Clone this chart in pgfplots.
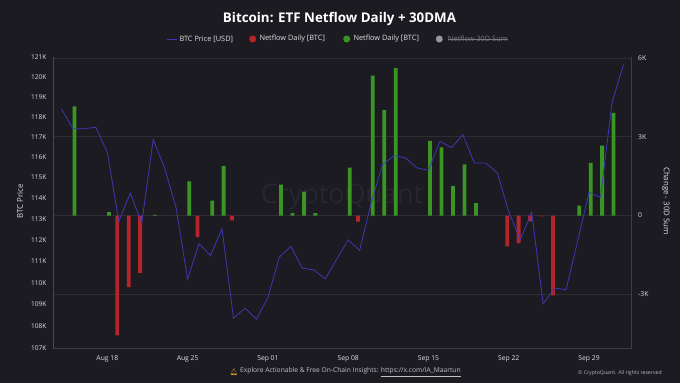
\documentclass[border=0pt]{standalone}
\usepackage{pgfplots}
\pgfplotsset{compat=1.18}
\usepackage{fontspec}
\setmainfont{Open Sans}
\newfontfamily\emojifont{Noto Emoji}
\definecolor{bgcol}{RGB}{28,27,33}
\definecolor{gridcol}{RGB}{46,45,52}
\definecolor{linecol}{RGB}{62,61,68}
\definecolor{txtcol}{RGB}{222,222,226}
\definecolor{pricecol}{RGB}{62,56,178}
\definecolor{greencol}{RGB}{58,150,36}
\definecolor{redcol}{RGB}{180,36,42}
\definecolor{graycol}{RGB}{150,150,156}
\definecolor{wmcol}{RGB}{39,38,44}
\definecolor{bellcol}{RGB}{240,190,40}
\begin{document}
\begin{tikzpicture}[x=1bp,y=1bp]
\fill[bgcol] (0,0) rectangle (680,383);
\node[text=wmcol, font=\fontsize{27}{27}\selectfont] at (342,186) {CryptoQuant};
% bars axis (right)
\begin{axis}[at={(53.3bp,35bp)}, anchor=south west, scale only axis,
  width=578.4bp, height=290.5bp,
  xmin=-4.71, xmax=45.72, ymin=-5040, ymax=6010,
  axis y line*=right, axis x line*=bottom,
  axis line style={draw=linecol, line width=0.6bp, -},
  xtick={0,7,14,21,28,35,42},
  xticklabels={Aug 18,Aug 25,Sep 01,Sep 08,Sep 15,Sep 22,Sep 29},
  ytick={-3000,0,3000,6000}, yticklabels={-3K,0,3K,6K},
  major tick length=0pt,
  ymajorgrids, grid style={draw=gridcol, line width=0.5bp},
  tick label style={text=txtcol, font=\fontsize{6.8}{7}\selectfont},
  yticklabel style={anchor=west, inner sep=0pt, xshift=6.3bp},
  xticklabel style={anchor=north, inner sep=0pt, yshift=-7bp},
  /pgf/number format/assume math mode=true,
]
\addplot[ybar, bar width=3.8bp, bar shift=1.6bp, fill=greencol, draw=none] coordinates {
(-3,4150) (0,130) (4,20) (7,1300) (9,570) (10,1890) (15,1170) (16,90) (17,910) (18,90)
(21,1820) (23,5320) (24,4010) (25,5610) (28,2840) (29,2590) (30,1130) (31,1940) (32,470)
(41,380) (42,2000) (43,2660) (44,3900)};
\addplot[ybar, bar width=3.8bp, bar shift=-1.6bp, fill=redcol, draw=none] coordinates {
(1,-4560) (2,-2720) (3,-2180) (8,-820) (11,-190) (22,-230) (35,-1170) (36,-1050)
(37,-220) (38,-30) (39,-3040)};
\end{axis}
% price axis (left, logarithmic spacing, in thousands of USD)
\begin{axis}[at={(53.3bp,35bp)}, anchor=south west, scale only axis,
  width=578.4bp, height=290.5bp,
  xmin=-4.71, xmax=45.72,
  y coord trafo/.code={\pgfmathparse{ln(#1)}},
  y coord inv trafo/.code={\pgfmathparse{exp(#1)}},
  ymin=107, ymax=121,
  axis x line=none, axis y line*=left,
  axis line style={draw=pricecol, line width=0.8bp, -},
  ytick={107,108,109,110,111,112,113,114,115,116,117,118,119,120,121},
  yticklabels={107K,108K,109K,110K,111K,112K,113K,114K,115K,116K,117K,118K,119K,120K,121K},
  major tick length=0pt,
  tick label style={text=txtcol, font=\fontsize{6.6}{7}\selectfont},
  yticklabel style={anchor=east, inner sep=0pt, xshift=-6.6bp},
  /pgf/number format/assume math mode=true,
]
\addplot[pricecol, line width=0.8bp, mark=none] table {
x y
-4 118.380
-3 117.390
-2 117.390
-1 117.460
0 116.220
1 112.875
2 114.240
3 112.800
4 116.850
5 115.460
6 113.520
7 110.160
8 111.820
9 111.260
10 112.530
11 108.350
12 108.810
13 108.310
14 109.300
15 111.190
16 111.690
17 110.670
18 110.590
19 110.170
20 111.090
21 112.000
22 111.500
23 113.760
24 115.620
25 116.060
26 115.950
27 115.460
28 115.350
29 116.770
30 116.450
31 117.090
32 115.700
33 115.700
34 115.230
35 113.340
36 112.000
37 113.310
38 109.010
39 109.740
40 109.660
41 111.940
42 114.270
43 114.030
44 118.680
45 120.620
};
\end{axis}
% axis titles
\node[rotate=90, text=txtcol, font=\fontsize{7.9}{8}\selectfont] at (20,182) {BTC Price};
\node[rotate=-90, text=txtcol, font=\fontsize{7.9}{8}\selectfont] at (666,182) {Change - 30D Sum};
% title
\node[text=white, font=\fontsize{13.4}{14}\selectfont\bfseries] at (339.5,364) {Bitcoin: ETF Netflow Daily + 30DMA};
% legend
\draw[pricecol, line width=1bp] (166.7,344) -- (176.7,344);
\node[anchor=west, inner sep=0pt, text=txtcol, font=\fontsize{7.4}{8}\selectfont] at (179.3,344) {BTC Price [USD]};
\fill[redcol] (252.7,344) circle (3.5);
\node[anchor=west, inner sep=0pt, text=txtcol, font=\fontsize{7.4}{8}\selectfont] at (259.3,344) {Netflow Daily [BTC]};
\fill[greencol] (346.7,344) circle (3.5);
\node[anchor=west, inner sep=0pt, text=txtcol, font=\fontsize{7.4}{8}\selectfont] at (353.3,344) {Netflow Daily [BTC]};
\fill[graycol] (439.3,344) circle (3.5);
\node[anchor=west, inner sep=0pt, text=graycol!75!bgcol, font=\fontsize{7.4}{8}\selectfont] (sumtxt) at (447.7,344) {Netflow 30D Sum};
\draw[graycol!75!bgcol, line width=0.5bp] (sumtxt.west) -- (sumtxt.east);
% footer
\node[text=bellcol, font=\fontsize{6.5}{7}\emojifont] at (234,11) {🔔};
\node[anchor=west, inner sep=0pt, text=txtcol!85!bgcol, font=\fontsize{6.7}{7}\selectfont] at (240,11) {Explore Actionable \& Free On-Chain Insights: \underline{https://x.com/IA\_Maartun}};
\node[anchor=west, inner sep=0pt, text=txtcol!80!bgcol, font=\fontsize{5.2}{6}\selectfont] at (578,10) {© CryptoQuant. All rights reserved};
\pgfresetboundingbox
\useasboundingbox (0,0) rectangle (680,383);
\end{tikzpicture}
\end{document}
